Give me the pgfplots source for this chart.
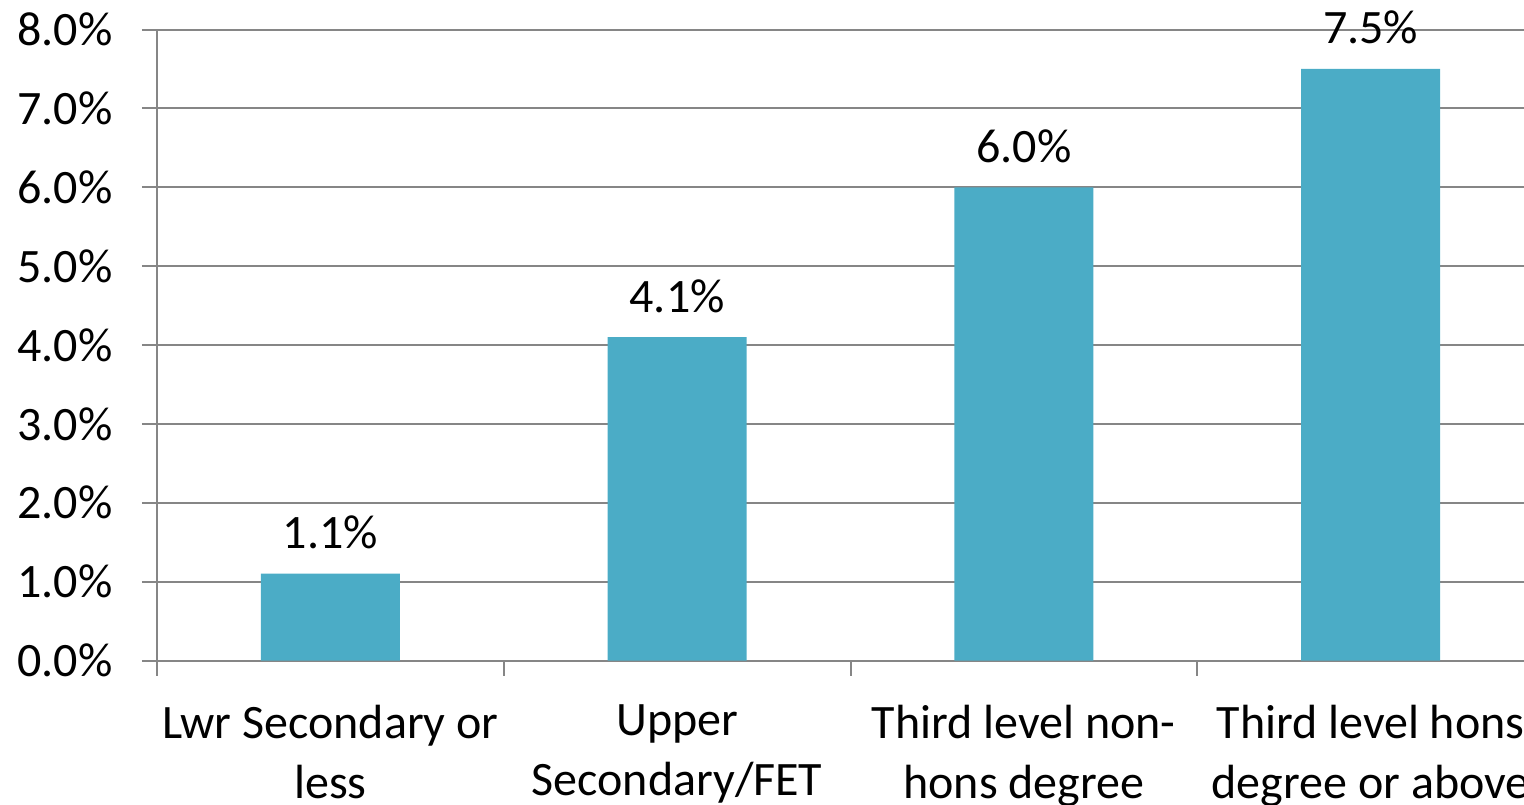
\documentclass[border=0pt]{standalone}
\usepackage{fontspec}
\setmainfont{Carlito}
\usepackage{pgfplots}
\pgfplotsset{compat=1.18}
\definecolor{barc}{HTML}{4BACC6}
\definecolor{axc}{HTML}{868686}
\begin{document}
\fontsize{24bp}{30bp}\selectfont
\begin{tikzpicture}
\begin{axis}[
  at={(0,0)}, anchor=south west,
  scale only axis, width=693.5bp, height=315.5bp,
  xmin=-0.5, xmax=3.5, ymin=0, ymax=8,
  axis lines*=left,
  /pgf/number format/assume math mode=true,
  ytick={0,1,...,8},
  yticklabel={\pgfmathprintnumber[fixed,fixed zerofill,precision=1]{\tick}\%},
  ymajorgrids, grid style={axc, line width=1bp},
  axis line style={axc, line width=1bp},
  tick style={axc, line width=1bp},
  tick align=outside, major tick length=7.5bp,
  xtick={-0.5,0.5,1.5,2.5,3.5}, xticklabels={},
  extra x ticks={0,1,2,3},
  extra x tick labels={Lwr Secondary or\\less, Upper\\Secondary/FET, Third level non-\\hons degree, Third level hons\\degree or above},
  extra x tick style={major tick length=0pt},
  xticklabel style={align=center, anchor=north, yshift=-14bp, font=\fontsize{24bp}{30bp}\selectfont, black},
  yticklabel style={anchor=east, xshift=-6.5bp, font=\fontsize{24bp}{30bp}\selectfont, black},
  ybar, bar width=69.4bp,
  nodes near coords={\pgfmathprintnumber[fixed,fixed zerofill,precision=1]{\pgfplotspointmeta}\%},
  every node near coord/.append style={anchor=base, yshift=12.5bp, black, font=\fontsize{24bp}{30bp}\selectfont},
]
\addplot[fill=barc, draw=none] coordinates {(0,1.1) (1,4.1) (2,6.0) (3,7.5)};
\end{axis}
\pgfresetboundingbox
\useasboundingbox (-78.5bp,-72.25bp) rectangle (683.5bp,330.25bp);
\end{tikzpicture}
\end{document}
